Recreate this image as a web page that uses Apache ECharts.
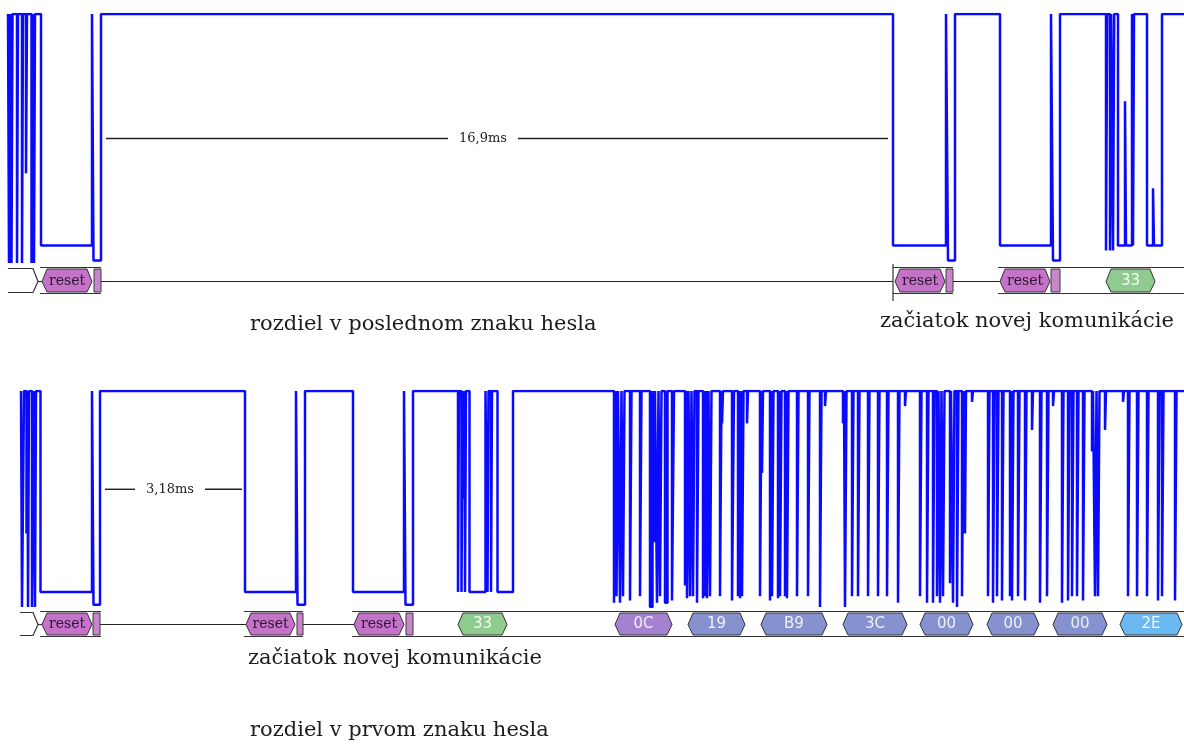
<!DOCTYPE html>
<html>
<head>
<meta charset="utf-8">
<script src="https://cdn.jsdelivr.net/npm/echarts@6/dist/echarts.min.js"></script>
<style>
html,body{margin:0;padding:0;background:#fff;}
#chart{width:1184px;height:745px;}
</style>
</head>
<body>
<div id="chart"></div>
<script>
// ---------- DATA ----------
// Waveform 1 (upper capture): [time, level] steps; level 1 = high, 0.07 = low plateau, 0 = glitch bottom
const wave1Steps = [
  [8,1],[9,0],[10,1],[11.5,0],[12.5,1],[17,0],[18,1],[22,0],[23,1],[26,0.36],[27,1],
  [31.5,0],[32.5,1],[34,0],[35,1],[41,0.07],[92,1],[93.5,0.01],[101,1],
  [893,0.07],[946,1],[948,0.01],[955,1],[1000,0.07],[1051,1],[1053,0.01],[1060,1],
  [1118,0.07],[1125,0.65],[1126,0.07],[1132,1],[1133,0.07],[1134,1],
  [1147,0.07],[1153,0.3],[1154,0.07],[1162,1],[1184,1]
];
// narrow pulses on the high level: [start, width, level]
const wave1Pulses = [[1106,1.2,0.05],[1110,1.2,0.05],[1113,1.2,0.05]];

// Waveform 2 (lower capture)
const wave2Steps = [
  [21,1],[22,0],[24,1],[26.5,0.34],[27.5,1],[28,0],[29,1],[32,0],[33.5,1],[35,0],[36,1],
  [40.5,0.07],[92,1],[93.5,0.01],[100,1],[245,0.07],[296,1],[297.5,0.01],[305,1],
  [353,0.07],[404,1],[405.5,0.01],[413,1],[1184,1]
];
const wave2Pulses = [
  [458,1,0.07],[461.5,1,0.07],[463.5,1,0.5],[465,1,0.07],[469.5,16,0.07],[487.5,1,0.07],
  [491,1,0.07],[497.5,15.5,0.07],
  [614,1.5,0.02],[616.5,1.5,0.05],[620,1.5,0.02],[623,1.5,0.05],[630,1.5,0.03],[640,1.5,0.05],
  [650,2.5,0.0],[654,1,0.3],[657,1.5,0.02],[660,1.5,0.05],[665,2.5,0.02],[672,2,0.03],
  [685,1.5,0.1],[687,1.5,0.04],[690,1.5,0.05],[693,1.5,0.05],[697,1.5,0.02],[703,1.5,0.04],
  [705,1.5,0.05],[707,1.5,0.04],[710,1.5,0.05],[720,1.5,0.05],[722,1,0.85],[732,2,0.03],
  [738,1.5,0.05],[740,1.5,0.04],[742,1.5,0.05],[747,1,0.85],[760,1.5,0.05],[762,1,0.62],
  [770,1.5,0.03],[772,1.5,0.05],[778,1.5,0.04],[780,1.5,0.05],[787,1.5,0.04],[797,1.5,0.05],
  [785,1.5,0.05],[798,1.5,0.05],[808,1.5,0.05],[820,1.5,0.0],[825,1,0.93],[843,1,0.85],
  [845,1.5,0.0],[852,1.5,0.05],[858,1.5,0.05],[868,1.5,0.05],[878,1.5,0.05],[887,1.5,0.05],
  [898,1.5,0.02],[905,1,0.93],[920,1.5,0.05],[927,1.5,0.02],[933,1.5,0.02],[937,1.5,0.05],
  [940,1.5,0.02],[943,1.5,0.05],[950,1,0.11],[953,1.5,0.02],[957,1.5,0.0],[962,1.5,0.05],
  [965,1,0.34],[972,1,0.95],[988,1.5,0.05],[993,1.5,0.02],[997,1.5,0.05],[1002,1.5,0.03],
  [1010,1.5,0.05],[1012,1.5,0.03],[1018,1.5,0.05],[1025,1.5,0.03],[1032,1,0.82],[1040,1.5,0.02],
  [1047,1.5,0.05],[1053,1,0.93],[1062,1.5,0.02],[1068,1.5,0.03],[1072,1.5,0.05],[1077,1.5,0.05],
  [1083,1.5,0.03],[1092,1,0.72],[1095,1.5,0.05],[1098,1.5,0.05],[1105,1,0.82],[1123,1,0.95],
  [1128,1.5,0.05],[1137,1.5,0.05],[1147,1.5,0.05],[1158,1.5,0.03],[1162,1.5,0.05],[1175,1.5,0.03]
];

// Decoded protocol rows: [start, end, kind, label]
const row1Segments = [
  [8,40,'open',''],[40,101,'frame',''],[42,92,'reset','reset'],[94,101,'box',''],
  [101,893,'line',''],[893,893,'cursor',''],
  [893,953,'frame',''],[895,945,'reset','reset'],[946,953,'box',''],[953,1000,'line',''],
  [998,1060,'frame',''],[1000,1050,'reset','reset'],[1051,1060,'box',''],
  [1060,1184,'frame',''],[1106,1155,'d33','33']
];
const row2Segments = [
  [20,40,'open',''],[40,101,'frame',''],[42,92,'reset','reset'],[93,100,'box',''],
  [100,246,'line',''],[244,303,'frame',''],[246,295,'reset','reset'],[297,303,'box',''],
  [303,354,'line',''],[352,413,'frame',''],[354,404,'reset','reset'],[406,413,'box',''],
  [413,1184,'frame',''],
  [458,507,'d33','33'],[615,672,'cmd','0C'],[688,745,'data','19'],[761,827,'data','B9'],
  [843,907,'data','3C'],[920,973,'data','00'],[987,1039,'data','00'],[1053,1107,'data','00'],
  [1120,1182,'crc','2E']
];

// Time measurements: [from, to, labelCenter, level, text]
const measure1 = [106, 888, 483, 0.5, '16,9ms'];
const measure2 = [105, 242, 170, 0.545, '3,18ms'];

// Captions: [text, left, centre y]
const captions = [
  ['rozdiel v poslednom znaku hesla', 250, 325],
  ['začiatok novej komunikácie', 880, 322],
  ['začiatok novej komunikácie', 248, 659],
  ['rozdiel v prvom znaku hesla', 250, 731]
];

// ---------- BUILD ----------
function buildWave(steps, pulses){
  const pts = steps.map(s => [s[0], s[1]]);
  pulses.forEach(p => { pts.push([p[0], p[2], 0]); pts.push([p[0] + p[1], 1, 1]); });
  pts.sort((a,b) => a[0] - b[0] || (a[2]||0) - (b[2]||0));
  return pts.map(p => [p[0], p[1]]);
}

const kindStyle = {
  reset: {fill:'#c572c9', text:'#2a1830', font:'14px "DejaVu Serif"'},
  box:   {fill:'#c985cb'},
  d33:   {fill:'#8fcb8e', text:'#f4fbf2', font:'15px "DejaVu Sans"'},
  cmd:   {fill:'#a482d0', text:'#f2eefa', font:'15px "DejaVu Sans"'},
  data:  {fill:'#8691d0', text:'#eef0fb', font:'15px "DejaVu Sans"'},
  crc:   {fill:'#6cb9f1', text:'#f2f8ff', font:'15px "DejaVu Sans"'}
};

function rowRender(segs){
  return function(params, api){
    const s = segs[params.dataIndex];
    const x0 = api.coord([s[0], 0])[0];
    const x1 = api.coord([s[1], 0])[0];
    const yTop = api.coord([0, 1])[1];
    const yBot = api.coord([0, 0])[1];
    const yMid = Math.round((yTop + yBot) / 2) + 0.5;
    const kind = s[2];
    if (kind === 'line') {
      return {type:'line', shape:{x1:x0,y1:yMid,x2:x1,y2:yMid}, style:{stroke:'#222',lineWidth:1.2}};
    }
    if (kind === 'frame') {
      return {type:'group', children:[
        {type:'line', shape:{x1:x0,y1:yTop+0.5,x2:x1,y2:yTop+0.5}, style:{stroke:'#333',lineWidth:1.2}},
        {type:'line', shape:{x1:x0,y1:yBot-0.5,x2:x1,y2:yBot-0.5}, style:{stroke:'#333',lineWidth:1.2}}
      ]};
    }
    if (kind === 'cursor') {
      return {type:'line', shape:{x1:x0,y1:yTop-3,x2:x0,y2:yBot+7}, style:{stroke:'#333',lineWidth:1.2}};
    }
    if (kind === 'open') {
      return {type:'group', children:[
        {type:'polyline', shape:{points:[[x0,yTop+1.5],[x1-7,yTop+1.5],[x1-2,yMid],[x1-7,yBot-1.5],[x0,yBot-1.5]]},
         style:{stroke:'#333',lineWidth:1.2,fill:null}},
        {type:'line', shape:{x1:x1-2,y1:yMid,x2:x1+2,y2:yMid}, style:{stroke:'#333',lineWidth:1.2}}
      ]};
    }
    const st = kindStyle[kind];
    if (kind === 'box') {
      return {type:'rect', shape:{x:x0,y:yTop+2,width:x1-x0,height:yBot-yTop-4},
        style:{fill:st.fill,stroke:'#3a3a3a',lineWidth:1}};
    }
    const b = 5;
    const t = yTop + 2, bt = yBot - 2;
    return {type:'group', children:[
      {type:'polygon', shape:{points:[[x0,yMid],[x0+b,t],[x1-b,t],[x1,yMid],[x1-b,bt],[x0+b,bt]]},
       style:{fill:st.fill,stroke:'#333',lineWidth:1}},
      {type:'text', style:{text:s[3], x:(x0+x1)/2, y:yMid, align:'center', verticalAlign:'middle',
        fill:st.text, font:st.font}}
    ]};
  };
}

function measureRender(m){
  return function(params, api){
    const a = api.coord([m[0], m[3]]);
    const b = api.coord([m[1], m[3]]);
    const c = api.coord([m[2], m[3]]);
    const gap = 35;
    return {type:'group', children:[
      {type:'line', shape:{x1:a[0],y1:a[1],x2:c[0]-gap,y2:a[1]}, style:{stroke:'#222',lineWidth:1.4}},
      {type:'line', shape:{x1:c[0]+gap,y1:a[1],x2:b[0],y2:a[1]}, style:{stroke:'#222',lineWidth:1.4}},
      {type:'text', style:{text:m[4], x:c[0], y:a[1], align:'center', verticalAlign:'middle',
        fill:'#222', font:'13px "DejaVu Serif"'}}
    ]};
  };
}

const chart = echarts.init(document.getElementById('chart'), null, {renderer:'canvas'});
const xAx = i => ({type:'value', gridIndex:i, min:0, max:1184, show:false});
const yAx = i => ({type:'value', gridIndex:i, min:0, max:1, show:false});

chart.setOption({
  animation:false,
  backgroundColor:'#fff',
  grid:[
    {left:0, right:0, top:14, height:249},
    {left:0, right:0, top:267, height:27},
    {left:0, right:0, top:391, height:216},
    {left:0, right:0, top:611, height:26}
  ],
  xAxis:[xAx(0),xAx(1),xAx(2),xAx(3)],
  yAxis:[yAx(0),yAx(1),yAx(2),yAx(3)],
  graphic: captions.map(c => ({
    type:'text', left:c[1], top:c[2]-11,
    style:{text:c[0], fill:'#1c1c1c', font:'21px "DejaVu Serif"'}
  })),
  series:[
    {type:'line', xAxisIndex:0, yAxisIndex:0, step:'end', symbol:'none', silent:true,
     data:buildWave(wave1Steps, wave1Pulses), lineStyle:{color:'#0a0aff', width:2.5}},
    {type:'line', xAxisIndex:2, yAxisIndex:2, step:'end', symbol:'none', silent:true,
     data:buildWave(wave2Steps, wave2Pulses), lineStyle:{color:'#0a0aff', width:2.5}},
    {type:'custom', xAxisIndex:1, yAxisIndex:1, silent:true, clip:false,
     data:row1Segments.map(s => [s[0], s[1]]), renderItem:rowRender(row1Segments)},
    {type:'custom', xAxisIndex:3, yAxisIndex:3, silent:true, clip:false,
     data:row2Segments.map(s => [s[0], s[1]]), renderItem:rowRender(row2Segments)},
    {type:'custom', xAxisIndex:0, yAxisIndex:0, silent:true, clip:false,
     data:[[measure1[0], measure1[3]]], renderItem:measureRender(measure1)},
    {type:'custom', xAxisIndex:2, yAxisIndex:2, silent:true, clip:false,
     data:[[measure2[0], measure2[3]]], renderItem:measureRender(measure2)}
  ]
});
</script>
</body>
</html>
